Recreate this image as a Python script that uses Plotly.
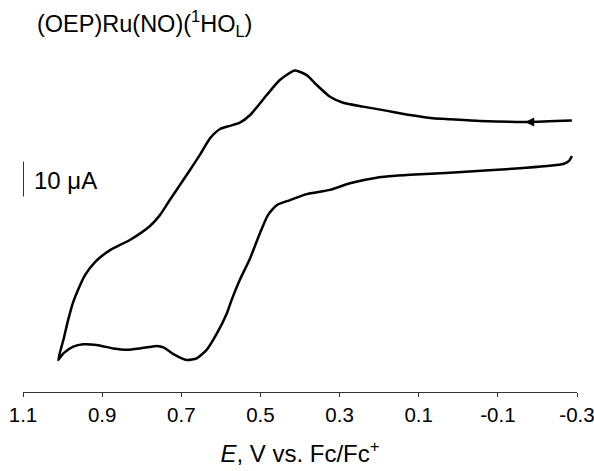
import plotly.graph_objects as go

# Potential (V vs Fc/Fc+) and current (µA, arbitrary offset) traced along the CV loop
potential = [-0.287, -0.176, -0.055, 0.021, 0.064, 0.122, 0.190, 0.241, 0.291, 0.324,
             0.358, 0.383, 0.413, 0.451, 0.484, 0.526, 0.552, 0.577, 0.602, 0.627,
             0.653, 0.678, 0.729, 0.754, 0.779, 0.830, 0.880, 0.918, 0.943, 0.961,
             0.973, 0.986, 0.998, 1.011,
             0.998, 0.973, 0.948, 0.914, 0.872, 0.838, 0.804, 0.762, 0.745, 0.720,
             0.686, 0.661, 0.636, 0.610, 0.585, 0.573, 0.552, 0.526, 0.501, 0.481,
             0.458, 0.425, 0.383, 0.324, 0.274, 0.206, 0.122, 0.021, -0.156, -0.265,
             -0.280, -0.287]
current = [68.4, 68.0, 68.3, 68.8, 69.1, 70.0, 71.4, 72.4, 73.5, 75.2,
           78.6, 81.4, 82.7, 80.0, 75.7, 70.0, 67.8, 66.9, 66.0, 63.4,
           58.6, 54.3, 45.7, 41.4, 38.3, 34.3, 31.4, 28.0, 24.3, 20.0,
           16.6, 11.4, 5.7, 0.0,
           1.9, 3.8, 4.5, 4.3, 3.3, 2.9, 3.3, 4.0, 3.6, 1.7,
           0.0, 0.5, 2.9, 7.6, 13.3, 17.1, 22.9, 29.1, 36.3, 41.4,
           44.3, 45.7, 47.4, 48.6, 50.5, 52.1, 52.9, 53.5, 54.8, 56.0,
           56.9, 58.3]

tick_vals = [1.1, 0.9, 0.7, 0.5, 0.3, 0.1, -0.1, -0.3]
tick_text = ["1.1", "0.9", "0.7", "0.5", "0.3", "0.1", "-0.1", "-0.3"]

scale_bar = [46.7, 56.7]   # 10 µA
arrow_pos = (-0.169, 68.0)

FONT = "Arial, Liberation Sans, sans-serif"

fig = go.Figure()
fig.add_trace(go.Scatter(x=potential, y=current, mode="lines",
                         line=dict(color="black", width=2.5, shape="spline", smoothing=0.6),
                         hoverinfo="skip", showlegend=False))

# scale bar
fig.add_trace(go.Scatter(x=[1.099, 1.099], y=scale_bar, mode="lines",
                         line=dict(color="#333333", width=1.2), showlegend=False, hoverinfo="skip"))

fig.add_annotation(x=arrow_pos[0], y=arrow_pos[1], ax=14, ay=0, text="", showarrow=True,
                   arrowhead=2, arrowsize=1.2, arrowwidth=1.5, arrowcolor="black", standoff=0)

fig.add_annotation(xref="paper", yref="paper", x=0.0217, y=1.048, xanchor="left", yanchor="middle",
                   text="(OEP)Ru(NO)(<sup>1</sup>HO<sub>L</sub>)", showarrow=False,
                   font=dict(family=FONT, size=23.5, color="black"))
fig.add_annotation(xref="paper", yref="paper", x=0.016, y=0.602, xanchor="left", yanchor="middle",
                   text="10 μA", showarrow=False, font=dict(family=FONT, size=24, color="black"))

fig.update_layout(
    width=594, height=471,
    margin=dict(l=23, r=17, t=40, b=79),
    paper_bgcolor="white", plot_bgcolor="white",
    xaxis=dict(range=[1.1, -0.3], tickvals=tick_vals, ticktext=tick_text, automargin=False,
               showline=True, linecolor="#333333", linewidth=1,
               ticks="outside", ticklen=4, tickcolor="#333333", showgrid=False, zeroline=False,
               ticklabeloverflow="allow",
               tickfont=dict(family=FONT, size=20.5, color="black"),
               title=dict(text="<i>E</i>, V vs. Fc/Fc<sup>+</sup>", standoff=20,
                          font=dict(family=FONT, size=24, color="black"))),
    yaxis=dict(range=[-9.14, 91.43], visible=False, showgrid=False, zeroline=False,
               automargin=False),
)

fig.write_html("out.html")
